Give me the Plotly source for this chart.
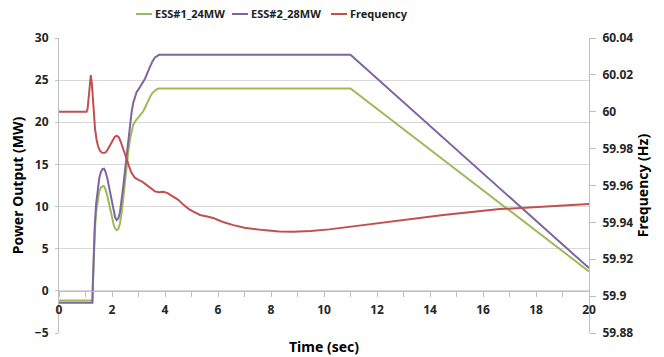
import plotly.graph_objects as go

# ---- data ----
t_ess1 = [0, 1.26, 1.28, 1.31, 1.35, 1.40, 1.46, 1.52, 1.58, 1.64, 1.70, 1.76, 1.82, 1.88,
          1.94, 2.00, 2.06, 2.12, 2.18, 2.24, 2.30, 2.37, 2.43, 2.49, 2.55, 2.62, 2.68, 2.74,
          2.80, 2.87, 2.93, 3.00, 3.08, 3.18, 3.27, 3.37, 3.45, 3.53, 3.62, 3.70, 3.78, 11.0, 20.0]
ess1_mw = [-1.15, -1.15, 1.0, 4.0, 7.0, 9.3, 10.9, 11.8, 12.25, 12.4, 12.4, 12.0, 11.3, 10.4,
           9.5, 8.6, 7.9, 7.4, 7.2, 7.35, 8.0, 9.4, 11.2, 13.2, 15.0, 16.7, 18.0, 19.0,
           19.7, 20.1, 20.35, 20.6, 20.9, 21.3, 21.9, 22.6, 23.1, 23.5, 23.8, 23.95, 24.0, 24.0, 2.3]

t_ess2 = [0, 1.26, 1.28, 1.31, 1.35, 1.40, 1.46, 1.52, 1.58, 1.64, 1.70, 1.76, 1.82, 1.88,
          1.94, 2.00, 2.06, 2.12, 2.18, 2.24, 2.30, 2.37, 2.43, 2.49, 2.55, 2.62, 2.68, 2.74,
          2.80, 2.87, 2.93, 3.00, 3.06, 3.15, 3.25, 3.34, 3.43, 3.52, 3.62, 3.70, 3.78, 11.0, 20.0]
ess2_mw = [-1.4, -1.4, 1.0, 4.5, 7.8, 10.3, 12.2, 13.4, 14.1, 14.45, 14.5, 14.1, 13.4, 12.4,
           11.3, 10.3, 9.4, 8.7, 8.4, 8.6, 9.3, 10.8, 12.5, 14.3, 16.1, 17.9, 19.7, 21.2,
           22.3, 23.1, 23.6, 23.9, 24.2, 24.6, 25.2, 25.9, 26.6, 27.2, 27.7, 27.9, 28.0, 28.0, 2.7]

t_freq = [0, 1.04, 1.08, 1.12, 1.16, 1.20, 1.24, 1.28, 1.32, 1.36, 1.42, 1.48, 1.55, 1.62,
          1.70, 1.78, 1.86, 1.94, 2.02, 2.10, 2.18, 2.26, 2.34, 2.43, 2.52, 2.62, 2.72, 2.80,
          2.87, 3.00, 3.12, 3.25, 3.37, 3.50, 3.62, 3.78, 3.94, 4.10, 4.31, 4.50, 4.70, 4.90,
          5.07, 5.32, 5.55, 5.82, 6.00, 6.25, 6.58, 7.00, 7.71, 8.30, 8.84, 9.50, 10.2, 11.5,
          12.8, 14.5, 16.64, 18.3, 20.0]
freq_hz = [60.0000, 60.0000, 60.0016, 60.0094, 60.0171, 60.0199, 60.0153, 60.0071, 59.9979,
           59.9906, 59.9847, 59.9810, 59.9787, 59.9778, 59.9776, 59.9783, 59.9801, 59.9824,
           59.9847, 59.9863, 59.9870, 59.9861, 59.9833, 59.9792, 59.9751, 59.9710, 59.9673,
           59.9655, 59.9641, 59.9630, 59.9623, 59.9609, 59.9595, 59.9579, 59.9568, 59.9563,
           59.9566, 59.9559, 59.9541, 59.9522, 59.9495, 59.9472, 59.9458, 59.9440, 59.9433,
           59.9424, 59.9413, 59.9399, 59.9385, 59.9371, 59.9358, 59.9351, 59.9349, 59.9353,
           59.9362, 59.9385, 59.9408, 59.9440, 59.9472, 59.9486, 59.9499]

series_names = ["ESS#1_24MW", "ESS#2_28MW", "Frequency"]
x_ticks = [0, 2, 4, 6, 8, 10, 12, 14, 16, 18, 20]
mw_ticks = [-5, 0, 5, 10, 15, 20, 25, 30]
hz_ticks = [59.88, 59.90, 59.92, 59.94, 59.96, 59.98, 60.00, 60.02, 60.04]
hz_labels = ["59.88", "59.9", "59.92", "59.94", "59.96", "59.98", "60", "60.02", "60.04"]

GREEN = "#9BBB59"
PURPLE = "#8064A2"
RED = "#C0504D"
GRID = "#D9D9D9"
AXIS = "#BFBFBF"
FONT = "Noto Sans"
colors = [GREEN, PURPLE, RED]

fig = go.Figure()
fig.add_trace(go.Scatter(x=t_ess1, y=ess1_mw, name=series_names[0], mode="lines",
                         line=dict(color=GREEN, width=2)))
fig.add_trace(go.Scatter(x=t_ess2, y=ess2_mw, name=series_names[1], mode="lines",
                         line=dict(color=PURPLE, width=2)))
fig.add_trace(go.Scatter(x=t_freq, y=freq_hz, name=series_names[2], mode="lines", yaxis="y2",
                         line=dict(color=RED, width=2)))

# legend drawn as short line samples + labels above the plot (paper coordinates)
legend_x = [0.1453, 0.3264, 0.5132]
sample_w = 0.0302
legend_y = 1.0814
for name, col, lx in zip(series_names, colors, legend_x):
    fig.add_shape(type="line", xref="paper", yref="paper", x0=lx, x1=lx + sample_w,
                  y0=legend_y, y1=legend_y, line=dict(color=col, width=2))
    fig.add_annotation(xref="paper", yref="paper", x=lx + sample_w + 0.002, y=legend_y,
                       xanchor="left", yanchor="middle", text=name, showarrow=False,
                       font=dict(family=FONT, size=11, color="#222222", weight="bold"))

tickfont = dict(family=FONT, size=12, color="#262626", weight="bold")
titlefont = dict(family=FONT, size=14, color="#000000", weight="bold")

# the page body has an 8px margin, so the figure is 8px smaller and margins shifted
fig.update_layout(
    width=656, height=349,
    margin=dict(l=51, r=75, t=30, b=24, autoexpand=False),
    paper_bgcolor="white", plot_bgcolor="white",
    showlegend=False,
    xaxis=dict(range=[0, 20], tickvals=x_ticks, showgrid=False, zeroline=False,
               showline=True, linecolor=AXIS, linewidth=1,
               ticks="outside", ticklen=5, tickcolor=AXIS,
               minor=dict(dtick=1, ticks="outside", ticklen=5, tickcolor=AXIS),
               anchor="free", position=5 / 35,
               tickfont=tickfont, ticklabelstandoff=3,
               title=dict(text="Time (sec)", font=titlefont, standoff=24)),
    yaxis=dict(range=[-5, 30], tickvals=mw_ticks, showgrid=True, gridcolor=GRID, gridwidth=1,
               zeroline=False, showline=True, linecolor=AXIS, linewidth=1,
               ticks="outside", ticklen=3, tickcolor=AXIS,
               tickfont=tickfont, ticklabelstandoff=4,
               title=dict(text="Power Output (MW)", font=titlefont, standoff=8)),
    yaxis2=dict(range=[59.88, 60.04], tickvals=hz_ticks, ticktext=hz_labels,
                overlaying="y", side="right", showgrid=False, zeroline=False,
                showline=True, linecolor=AXIS, linewidth=1,
                ticks="outside", ticklen=6, tickcolor=AXIS,
                tickfont=tickfont, ticklabelstandoff=4,
                title=dict(text="Frequency (Hz)", font=titlefont, standoff=2)),
)

fig.write_html("out.html")
